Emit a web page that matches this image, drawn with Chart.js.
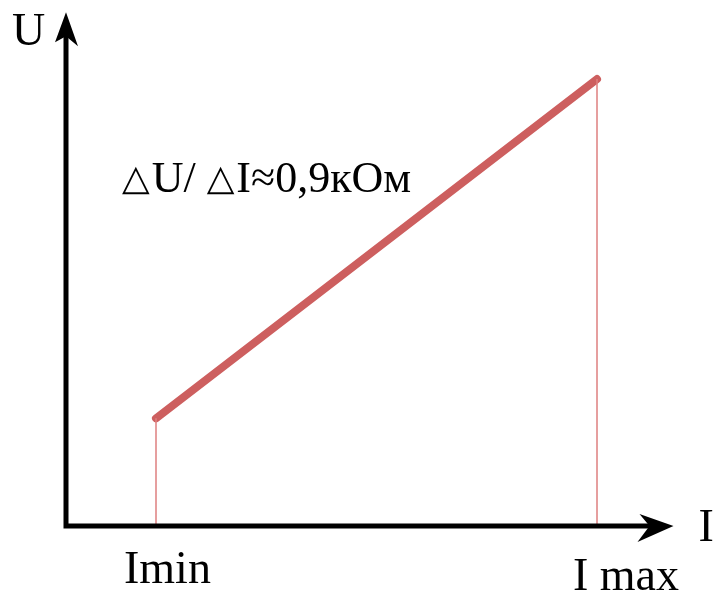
<!DOCTYPE html>
<html>
<head>
<meta charset="utf-8">
<script src="https://cdn.jsdelivr.net/npm/chart.js@4"></script>
<style>
  html, body { margin: 0; padding: 0; background: #fff; }
  canvas { display: block; }
</style>
</head>
<body>
<canvas id="vac-chart" width="717" height="600"></canvas>
<script>
// --- ДАННЫЕ ---
const currentPoints = [1.0, 5.9];     // I, мА
const voltagePoints = [1.40, 5.81];   // U, В
const tickLabels = ["Imin", "I max"];
const axisLabels = ["U", "I"];
const slopeParts = ["△", "U/ ", "△", "I≈0,9кОм"];

// --- НАСТРОЙКИ ---
const LINE_COLOR = "#cd5f5f";
const DROP_COLOR = "#de7f7f";
const SERIF = "'Liberation Serif', 'Times New Roman', serif";

const mainLine = currentPoints.map((x, i) => ({ x, y: voltagePoints[i] }));
const dropLines = currentPoints.map((x, i) => ({
  data: [{ x, y: 0 }, { x, y: voltagePoints[i] }],
  borderColor: DROP_COLOR,
  borderWidth: 1.5,
  pointRadius: 0,
  showLine: true
}));

// оси со стрелками и подписи
const axesPlugin = {
  id: "axesWithArrows",
  afterDraw(chart) {
    const { ctx, scales: { x, y } } = chart;
    const x0 = x.getPixelForValue(0);
    const y0 = y.getPixelForValue(0);
    const xEnd = x.getPixelForValue(6.75);
    const yEnd = y.getPixelForValue(6.68);

    ctx.save();
    ctx.strokeStyle = "#000";
    ctx.fillStyle = "#000";
    ctx.lineWidth = 5;
    ctx.lineCap = "square";
    ctx.beginPath();
    ctx.moveTo(x0, y0);
    ctx.lineTo(x0, yEnd + 20);
    ctx.moveTo(x0, y0);
    ctx.lineTo(xEnd - 20, y0);
    ctx.stroke();

    // стрелка оси U
    ctx.beginPath();
    ctx.moveTo(x0, yEnd);
    ctx.lineTo(x0 + 12, yEnd + 34);
    ctx.lineTo(x0, yEnd + 24);
    ctx.lineTo(x0 - 11, yEnd + 30);
    ctx.closePath();
    ctx.fill();

    // стрелка оси I
    ctx.beginPath();
    ctx.moveTo(xEnd, y0);
    ctx.lineTo(xEnd - 36, y0 + 16);
    ctx.lineTo(xEnd - 24, y0);
    ctx.lineTo(xEnd - 34, y0 - 12);
    ctx.closePath();
    ctx.fill();

    // подписи осей
    ctx.textBaseline = "alphabetic";
    ctx.textAlign = "left";
    ctx.font = `46px ${SERIF}`;
    ctx.fillText(axisLabels[0], x0 - 54, 45);
    ctx.fillText(axisLabels[1], xEnd + 25, y0 + 15);

    // Imin / I max
    const labelOffsets = [-32, -24];
    const labelBaselines = [y0 + 57, y0 + 64];
    tickLabels.forEach((t, i) => {
      ctx.fillText(t, x.getPixelForValue(currentPoints[i]) + labelOffsets[i], labelBaselines[i]);
    });

    // ΔU/ΔI
    let cx = 122;
    const base = 192;
    slopeParts.forEach((part, i) => {
      const small = i % 2 === 0;
      ctx.font = small ? "36px 'DejaVu Sans'" : `44px ${SERIF}`;
      ctx.fillText(part, cx, small ? base - 2 : base);
      cx += ctx.measureText(part).width + (small ? 2 : 0);
    });
    ctx.restore();
  }
};

new Chart(document.getElementById("vac-chart"), {
  type: "scatter",
  data: {
    datasets: [
      ...dropLines,
      {
        data: mainLine,
        borderColor: LINE_COLOR,
        borderWidth: 8,
        borderCapStyle: "round",
        pointRadius: 0,
        showLine: true
      }
    ]
  },
  options: {
    responsive: false,
    animation: false,
    layout: { padding: { left: 66, right: 21, top: 26, bottom: 74 } },
    plugins: { legend: { display: false }, tooltip: { enabled: false } },
    scales: {
      x: { type: "linear", min: 0, max: 7, display: false },
      y: { type: "linear", min: 0, max: 6.5, display: false }
    }
  },
  plugins: [axesPlugin]
});
</script>
</body>
</html>
